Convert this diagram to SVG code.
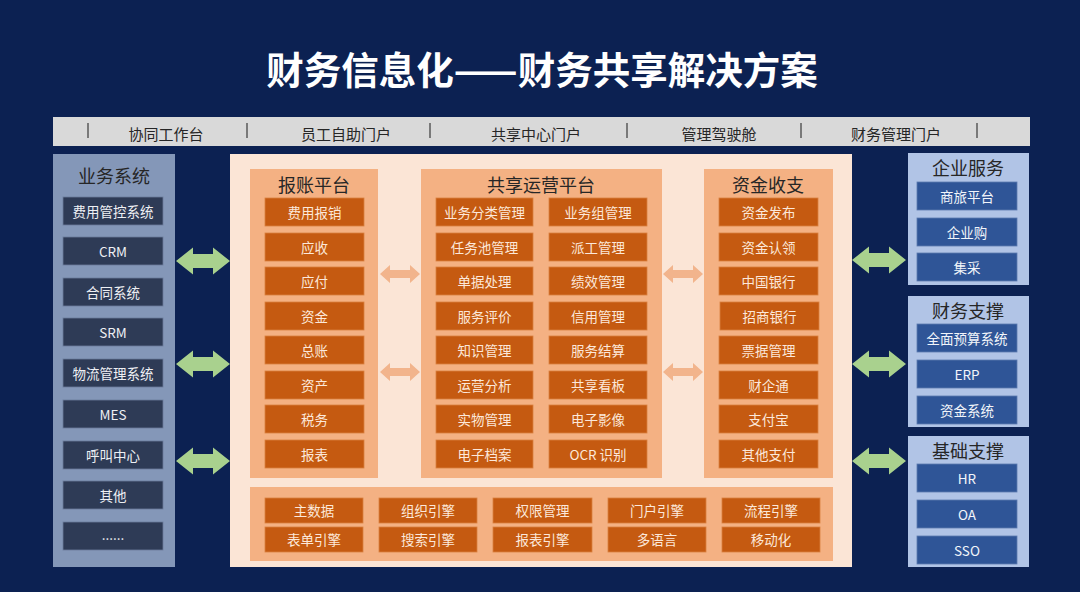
<svg xmlns="http://www.w3.org/2000/svg" width="1080" height="592" viewBox="0 0 1080 592">
<style>
text{font-family:"Noto Sans CJK SC","Noto Sans",sans-serif;text-anchor:middle;dominant-baseline:central}
.title{font-size:37.5px;font-weight:bold;fill:#ffffff}
.bar{font-size:15px;fill:#262626}
.sep{stroke:#595959;stroke-width:1.5}
.ptitle{font-size:18px;fill:#262626}
.lpanel{fill:#8497b8}
.litem{fill:#2e3b56;stroke:#6b7c9c;stroke-width:0.8}
.ltxt{font-size:13.5px;fill:#eef0f4}
.peach{fill:#fbe5d6}
.opanel{fill:#f4b183}
.oitem{fill:#c55a11;stroke:#d9803f;stroke-width:0.8}
.otxt{font-size:13.5px;fill:#fce8da}
.rpanel{fill:#b1c4e6}
.ritem{fill:#2f5597;stroke:#5c7ab0;stroke-width:0.8}
.rtxt{font-size:13.5px;fill:#f2f5fa}
.garrow{fill:#a9d18e}
.oarrow{fill:#f2b48c}
</style>
<rect width="1080" height="592" fill="#0c2152"/>
<text class="title" x="542" y="67">财务信息化——财务共享解决方案</text>

<g id="topbar">
<rect x="53" y="117" width="977" height="29" fill="#d9d9d9"/>
<line class="sep" x1="88" y1="123" x2="88" y2="138"/>
<line class="sep" x1="247" y1="123" x2="247" y2="138"/>
<line class="sep" x1="430" y1="123" x2="430" y2="138"/>
<line class="sep" x1="627" y1="123" x2="627" y2="138"/>
<line class="sep" x1="801" y1="123" x2="801" y2="138"/>
<line class="sep" x1="977" y1="123" x2="977" y2="138"/>
<text class="bar" x="166" y="133">协同工作台</text>
<text class="bar" x="346" y="133">员工自助门户</text>
<text class="bar" x="536" y="133">共享中心门户</text>
<text class="bar" x="719" y="133">管理驾驶舱</text>
<text class="bar" x="896" y="133">财务管理门户</text>
</g>

<g id="business-systems">
<rect class="lpanel" x="53" y="154" width="122" height="413"/>
<text class="ptitle" x="114" y="175">业务系统</text>
<rect class="litem" x="63" y="197" width="100" height="28"/><text class="ltxt" x="113" y="210.5">费用管控系统</text>
<rect class="litem" x="63" y="237" width="100" height="28"/><text class="ltxt" x="113" y="250.5">CRM</text>
<rect class="litem" x="63" y="278" width="100" height="28"/><text class="ltxt" x="113" y="291.5">合同系统</text>
<rect class="litem" x="63" y="318" width="100" height="28"/><text class="ltxt" x="113" y="331.5">SRM</text>
<rect class="litem" x="63" y="359" width="100" height="28"/><text class="ltxt" x="113" y="372.5">物流管理系统</text>
<rect class="litem" x="63" y="400" width="100" height="28"/><text class="ltxt" x="113" y="413.5">MES</text>
<rect class="litem" x="63" y="441" width="100" height="28"/><text class="ltxt" x="113" y="454.5">呼叫中心</text>
<rect class="litem" x="63" y="481" width="100" height="28"/><text class="ltxt" x="113" y="494.5">其他</text>
<rect class="litem" x="63" y="522" width="100" height="28"/><text class="ltxt" x="113" y="534">......</text>
</g>

<g id="center">
<rect class="peach" x="230" y="154" width="622" height="413"/>
</g>

<g id="reimbursement">
<rect class="opanel" x="250" y="169" width="128" height="309"/>
<text class="ptitle" x="314" y="184">报账平台</text>
<rect class="oitem" x="265" y="198" width="99" height="28"/><text class="otxt" x="314.5" y="211.5">费用报销</text>
<rect class="oitem" x="265" y="233" width="99" height="28"/><text class="otxt" x="314.5" y="246.5">应收</text>
<rect class="oitem" x="265" y="267" width="99" height="28"/><text class="otxt" x="314.5" y="280.5">应付</text>
<rect class="oitem" x="265" y="302" width="99" height="28"/><text class="otxt" x="314.5" y="315.5">资金</text>
<rect class="oitem" x="265" y="336" width="99" height="28"/><text class="otxt" x="314.5" y="349.5">总账</text>
<rect class="oitem" x="265" y="371" width="99" height="28"/><text class="otxt" x="314.5" y="384.5">资产</text>
<rect class="oitem" x="265" y="405" width="99" height="28"/><text class="otxt" x="314.5" y="418.5">税务</text>
<rect class="oitem" x="265" y="440" width="99" height="28"/><text class="otxt" x="314.5" y="453.5">报表</text>
</g>

<g id="shared-ops">
<rect class="opanel" x="421" y="169" width="241" height="309"/>
<text class="ptitle" x="541" y="184">共享运营平台</text>
<rect class="oitem" x="436" y="198" width="97" height="28"/><text class="otxt" x="484.5" y="211.5">业务分类管理</text>
<rect class="oitem" x="436" y="233" width="97" height="28"/><text class="otxt" x="484.5" y="246.5">任务池管理</text>
<rect class="oitem" x="436" y="267" width="97" height="28"/><text class="otxt" x="484.5" y="280.5">单据处理</text>
<rect class="oitem" x="436" y="302" width="97" height="28"/><text class="otxt" x="484.5" y="315.5">服务评价</text>
<rect class="oitem" x="436" y="336" width="97" height="28"/><text class="otxt" x="484.5" y="349.5">知识管理</text>
<rect class="oitem" x="436" y="371" width="97" height="28"/><text class="otxt" x="484.5" y="384.5">运营分析</text>
<rect class="oitem" x="436" y="405" width="97" height="28"/><text class="otxt" x="484.5" y="418.5">实物管理</text>
<rect class="oitem" x="436" y="440" width="97" height="28"/><text class="otxt" x="484.5" y="453.5">电子档案</text>
<rect class="oitem" x="549" y="198" width="98" height="28"/><text class="otxt" x="598" y="211.5">业务组管理</text>
<rect class="oitem" x="549" y="233" width="98" height="28"/><text class="otxt" x="598" y="246.5">派工管理</text>
<rect class="oitem" x="549" y="267" width="98" height="28"/><text class="otxt" x="598" y="280.5">绩效管理</text>
<rect class="oitem" x="549" y="302" width="98" height="28"/><text class="otxt" x="598" y="315.5">信用管理</text>
<rect class="oitem" x="549" y="336" width="98" height="28"/><text class="otxt" x="598" y="349.5">服务结算</text>
<rect class="oitem" x="549" y="371" width="98" height="28"/><text class="otxt" x="598" y="384.5">共享看板</text>
<rect class="oitem" x="549" y="405" width="98" height="28"/><text class="otxt" x="598" y="418.5">电子影像</text>
<rect class="oitem" x="549" y="440" width="98" height="28"/><text class="otxt" x="598" y="453.5">OCR 识别</text>
</g>

<g id="funds">
<rect class="opanel" x="704" y="169" width="129" height="309"/>
<text class="ptitle" x="768" y="184">资金收支</text>
<rect class="oitem" x="719" y="198" width="99" height="28"/><text class="otxt" x="768.5" y="211.5">资金发布</text>
<rect class="oitem" x="719" y="233" width="99" height="28"/><text class="otxt" x="768.5" y="246.5">资金认领</text>
<rect class="oitem" x="719" y="267" width="99" height="28"/><text class="otxt" x="768.5" y="280.5">中国银行</text>
<rect class="oitem" x="720" y="302" width="99" height="28"/><text class="otxt" x="769.5" y="315.5">招商银行</text>
<rect class="oitem" x="719" y="336" width="99" height="28"/><text class="otxt" x="768.5" y="349.5">票据管理</text>
<rect class="oitem" x="719" y="371" width="99" height="28"/><text class="otxt" x="768.5" y="384.5">财企通</text>
<rect class="oitem" x="719" y="405" width="99" height="28"/><text class="otxt" x="768.5" y="418.5">支付宝</text>
<rect class="oitem" x="719" y="440" width="99" height="28"/><text class="otxt" x="768.5" y="453.5">其他支付</text>
</g>

<g id="platform">
<rect class="opanel" x="250" y="487" width="583" height="74"/>
<rect class="oitem" x="265" y="498" width="98" height="25"/><text class="otxt" x="314" y="510">主数据</text>
<rect class="oitem" x="379" y="498" width="98" height="25"/><text class="otxt" x="428" y="510">组织引擎</text>
<rect class="oitem" x="493" y="498" width="99" height="25"/><text class="otxt" x="542.5" y="510">权限管理</text>
<rect class="oitem" x="608" y="498" width="98" height="25"/><text class="otxt" x="657" y="510">门户引擎</text>
<rect class="oitem" x="722" y="498" width="98" height="25"/><text class="otxt" x="771" y="510">流程引擎</text>
<rect class="oitem" x="265" y="527" width="98" height="25"/><text class="otxt" x="314" y="539">表单引擎</text>
<rect class="oitem" x="379" y="527" width="98" height="25"/><text class="otxt" x="428" y="539">搜索引擎</text>
<rect class="oitem" x="493" y="527" width="99" height="25"/><text class="otxt" x="542.5" y="539">报表引擎</text>
<rect class="oitem" x="608" y="527" width="98" height="25"/><text class="otxt" x="657" y="539">多语言</text>
<rect class="oitem" x="722" y="527" width="98" height="25"/><text class="otxt" x="771" y="539">移动化</text>
</g>

<g id="enterprise-services">
<rect class="rpanel" x="908" y="153" width="121" height="132"/>
<text class="ptitle" x="968" y="167">企业服务</text>
<rect class="ritem" x="917" y="182" width="100" height="28"/><text class="rtxt" x="967" y="195.5">商旅平台</text>
<rect class="ritem" x="917" y="218" width="100" height="28"/><text class="rtxt" x="967" y="231.5">企业购</text>
<rect class="ritem" x="917" y="253" width="100" height="28"/><text class="rtxt" x="967" y="266.5">集采</text>
</g>

<g id="finance-support">
<rect class="rpanel" x="908" y="296" width="121" height="131"/>
<text class="ptitle" x="968" y="310">财务支撑</text>
<rect class="ritem" x="917" y="324" width="100" height="28"/><text class="rtxt" x="967" y="337.5">全面预算系统</text>
<rect class="ritem" x="917" y="360" width="100" height="28"/><text class="rtxt" x="967" y="373.5">ERP</text>
<rect class="ritem" x="917" y="396" width="100" height="28"/><text class="rtxt" x="967" y="409.5">资金系统</text>
</g>

<g id="base-support">
<rect class="rpanel" x="908" y="436" width="121" height="131"/>
<text class="ptitle" x="968" y="450">基础支撑</text>
<rect class="ritem" x="917" y="464" width="100" height="28"/><text class="rtxt" x="967" y="477.5">HR</text>
<rect class="ritem" x="917" y="500" width="100" height="28"/><text class="rtxt" x="967" y="513.5">OA</text>
<rect class="ritem" x="917" y="536" width="100" height="28"/><text class="rtxt" x="967" y="549.5">SSO</text>
</g>

<g id="connectors">
<path class="garrow" d="M176,261 L193,247.5 L193,254 L213,254 L213,247.5 L230,261 L213,274.5 L213,268 L193,268 L193,274.5 Z"/>
<path class="garrow" d="M176,364 L193,350.5 L193,357 L213,357 L213,350.5 L230,364 L213,377.5 L213,371 L193,371 L193,377.5 Z"/>
<path class="garrow" d="M176,461 L193,447.5 L193,454 L213,454 L213,447.5 L230,461 L213,474.5 L213,468 L193,468 L193,474.5 Z"/>
<path class="garrow" d="M852,260 L869,246.5 L869,253 L889,253 L889,246.5 L906,260 L889,273.5 L889,267 L869,267 L869,273.5 Z"/>
<path class="garrow" d="M852,364 L869,350.5 L869,357 L889,357 L889,350.5 L906,364 L889,377.5 L889,371 L869,371 L869,377.5 Z"/>
<path class="garrow" d="M852,461 L869,447.5 L869,454 L889,454 L889,447.5 L906,461 L889,474.5 L889,468 L869,468 L869,474.5 Z"/>
<path class="oarrow" d="M380,274 L390,265 L390,270 L410,270 L410,265 L420,274 L410,283 L410,278 L390,278 L390,283 Z"/>
<path class="oarrow" d="M380,372 L390,363 L390,368 L410,368 L410,363 L420,372 L410,381 L410,376 L390,376 L390,381 Z"/>
<path class="oarrow" d="M663,274 L673,265 L673,270 L693,270 L693,265 L703,274 L693,283 L693,278 L673,278 L673,283 Z"/>
<path class="oarrow" d="M663,372 L673,363 L673,368 L693,368 L693,363 L703,372 L693,381 L693,376 L673,376 L673,381 Z"/>
</g>
</svg>
